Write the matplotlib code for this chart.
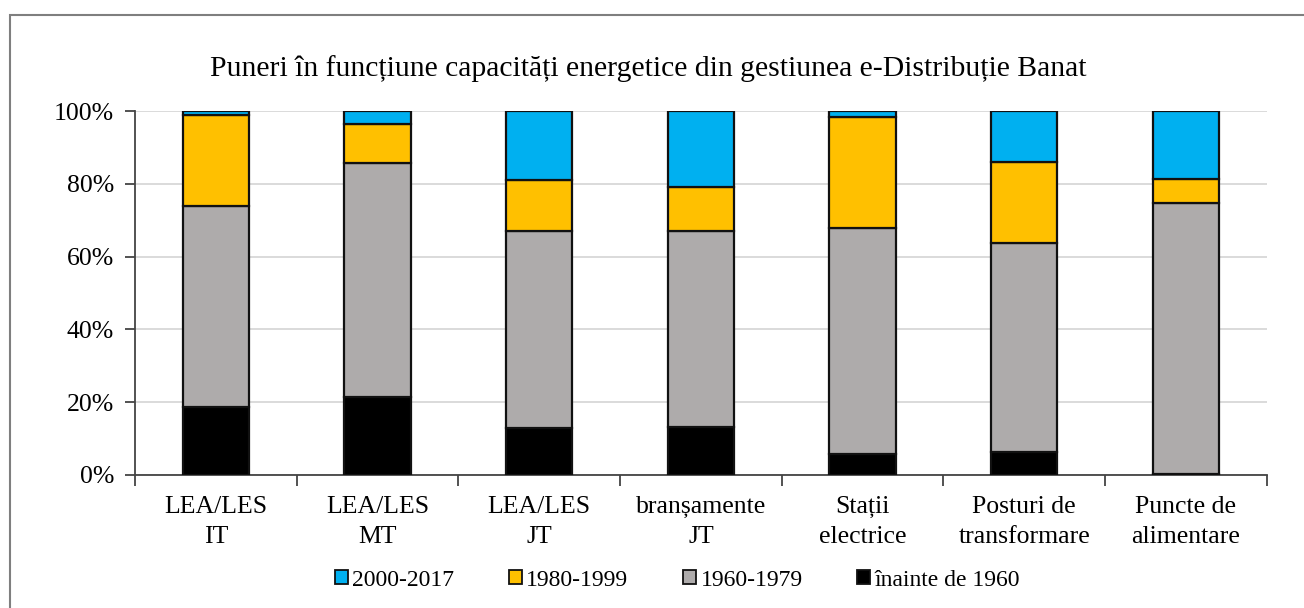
import matplotlib.pyplot as plt
import numpy as np
from matplotlib.patches import Rectangle, Patch

categories = ["LEA/LES\nIT", "LEA/LES\nMT", "LEA/LES\nJT", "branșamente\nJT",
              "Stații\nelectrice", "Posturi de\ntransformare", "Puncte de\nalimentare"]
before_1960 = [18.7, 21.4, 12.9, 13.2, 5.8, 6.3, 0.2]
y1960_1979 = [55.2, 64.3, 54.1, 53.8, 62.1, 57.4, 74.5]
y1980_1999 = [25.0, 10.7, 14.0, 12.1, 30.5, 22.3, 6.6]
y2000_2017 = [1.1, 3.6, 19.0, 20.9, 1.6, 14.0, 18.7]

series = [("înainte de 1960", before_1960, "#000000"),
          ("1960-1979", y1960_1979, "#aeabab"),
          ("1980-1999", y1980_1999, "#ffc000"),
          ("2000-2017", y2000_2017, "#00b0f0")]

plt.rcParams['font.family'] = ['Liberation Serif', 'DejaVu Serif']

fig = plt.figure(figsize=(13.04, 6.08), dpi=100)
ax = fig.add_axes([0.1035, 0.2188, 0.868, 0.5986])

x = np.arange(len(categories))
bottom = np.zeros(len(categories))
for name, vals, color in series:
    ax.bar(x, vals, 0.41, bottom=bottom, color=color, edgecolor="#111111",
           linewidth=1.6, zorder=3)
    bottom += np.array(vals)

ax.set_xlim(-0.5, len(categories) - 0.5)
ax.set_ylim(0, 100)
ax.set_yticks(np.arange(0, 101, 20))
ax.set_yticklabels([f"{v}%" for v in range(0, 101, 20)], fontsize=18.5)
ax.yaxis.grid(True, color="#d4d4d4", linewidth=1.2, zorder=0)
ax.set_xticks(x)
ax.set_xticklabels(categories, fontsize=18.5, linespacing=1.5)
ax.set_xticks(np.arange(-0.5, len(categories), 1), minor=True)
ax.tick_params(axis="x", which="major", length=0, pad=15)
ax.tick_params(axis="x", which="minor", length=8, width=1.3, color="#444444", direction="out")
ax.tick_params(axis="y", length=7, width=1.3, color="#444444", pad=8)

for side in ("top", "right"):
    ax.spines[side].set_visible(False)
for side in ("left", "bottom"):
    ax.spines[side].set_color("#444444")
    ax.spines[side].set_linewidth(1.3)

fig.text(0.497, 0.888, "Puneri în funcțiune capacități energetice din gestiunea e-Distribuție Banat",
         ha="center", va="center", fontsize=21.3)

handles = [Patch(facecolor=c, edgecolor="#111111", linewidth=1.3, label=n)
           for n, _, c in series[::-1]]
fig.legend(handles=handles, loc="center", bbox_to_anchor=(0.5195, 0.046), ncol=4,
           frameon=False, fontsize=17, handlelength=0.55, handleheight=0.55,
           handletextpad=0.2, columnspacing=2.3)

# outer border around the chart area
fig.patches.append(Rectangle((10 / 1304, -0.05), 1.1, 1.05 - 15 / 608,
                             transform=fig.transFigure, fill=False,
                             edgecolor="#7f7f7f", linewidth=1.5))

fig.savefig("out.png", dpi=100)
